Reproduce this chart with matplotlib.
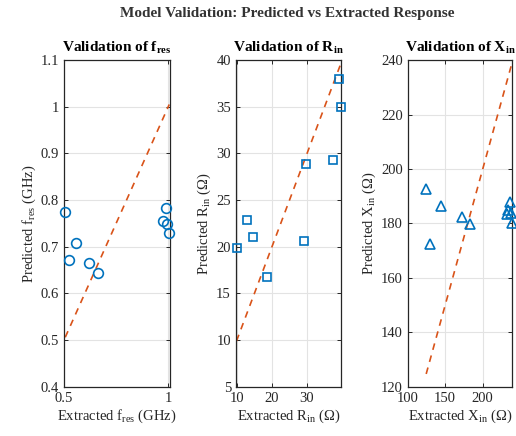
import matplotlib
matplotlib.use('Agg')
import matplotlib.pyplot as plt
import numpy as np

plt.rcParams['font.family'] = ['Liberation Serif', 'DejaVu Serif']
plt.rcParams['mathtext.fontset'] = 'custom'
plt.rcParams['mathtext.rm'] = 'Liberation Serif'
plt.rcParams['mathtext.it'] = 'Liberation Serif:italic'
plt.rcParams['mathtext.bf'] = 'Liberation Serif:bold'

# data
f_ext = [0.506, 0.526, 0.556, 0.621, 0.665, 0.976, 0.989, 0.992, 1.005]
f_pred = [0.774, 0.672, 0.709, 0.666, 0.644, 0.756, 0.784, 0.749, 0.729]

r_ext = [9.9, 12.9, 14.7, 18.6, 29.2, 29.6, 37.5, 39.1, 39.6]
r_pred = [19.9, 22.9, 21.0, 16.8, 20.6, 28.9, 29.3, 38.0, 35.0]

x_ext = [124.7, 130.4, 144.5, 171.8, 183.7, 232.5, 234.0, 236.0, 237.5, 238.5]
x_pred = [192.7, 172.6, 186.4, 182.3, 179.9, 183.4, 185.0, 187.7, 184.0, 180.0]

blue = '#0072BD'
orange = '#D95319'
dark = '#262626'

fig = plt.figure(figsize=(5.16, 4.36), dpi=100)

panels = [
    dict(x=f_ext, y=f_pred, m='o', ms=7, pos=[0.124, 0.113, 0.206, 0.749],
         title=r'Validation of $\mathbf{f}_{\mathbf{res}}$',
         xl=r'Extracted $\mathrm{f}_{\mathrm{res}}$ (GHz)', yl=r'Predicted $\mathrm{f}_{\mathrm{res}}$ (GHz)',
         xlim=(0.5, 1.01), ylim=(0.4, 1.1),
         xt=[0.5, 1], xtl=['0.5', '1'],
         yt=[0.4, 0.5, 0.6, 0.7, 0.8, 0.9, 1.0, 1.1], ytl=['0.4', '0.5', '0.6', '0.7', '0.8', '0.9', '1', '1.1']),
    dict(x=r_ext, y=r_pred, m='s', ms=6, pos=[0.457, 0.113, 0.204, 0.749],
         title=r'Validation of $\mathbf{R}_{\mathbf{in}}$',
         xl=r'Extracted $\mathrm{R}_{\mathrm{in}}$ (Ω)', yl=r'Predicted $\mathrm{R}_{\mathrm{in}}$ (Ω)',
         xlim=(9.7, 39.7), ylim=(5, 40),
         xt=[10, 20, 30], xtl=['10', '20', '30'],
         yt=list(range(5, 41, 5)), ytl=[str(v) for v in range(5, 41, 5)]),
    dict(x=x_ext, y=x_pred, m='^', ms=6.5, pos=[0.790, 0.113, 0.203, 0.749],
         title=r'Validation of $\mathbf{X}_{\mathbf{in}}$',
         xl=r'Extracted $\mathrm{X}_{\mathrm{in}}$ (Ω)', yl=r'Predicted $\mathrm{X}_{\mathrm{in}}$ (Ω)',
         xlim=(100, 239.5), ylim=(120, 240),
         xt=[100, 150, 200], xtl=['100', '150', '200'],
         yt=list(range(120, 241, 20)), ytl=[str(v) for v in range(120, 241, 20)]),
]

for p in panels:
    ax = fig.add_axes(p['pos'])
    ax.plot(p['x'], p['y'], linestyle='none', marker=p['m'], markersize=p['ms'],
            markerfacecolor='none', markeredgecolor=blue, markeredgewidth=1.2, zorder=3, clip_on=False)
    lo = min(p['x'])
    hi = max(p['x'])
    ax.plot([lo, hi], [lo, hi], color=orange, linestyle='--', linewidth=1.2, dashes=(4, 3.5), zorder=2)
    ax.set_xlim(p['xlim'])
    ax.set_ylim(p['ylim'])
    ax.set_xticks(p['xt'])
    ax.set_xticklabels(p['xtl'])
    ax.set_yticks(p['yt'])
    ax.set_yticklabels(p['ytl'])
    ax.grid(True, color='#e3e3e3', linewidth=0.8, zorder=0)
    ax.set_axisbelow(True)
    ax.tick_params(direction='in', length=3, width=0.7, colors=dark, labelsize=10.5,
                   top=True, right=True, labelcolor=dark)
    for s in ax.spines.values():
        s.set_color(dark)
        s.set_linewidth(0.9)
    ax.set_title(p['title'], fontsize=11, fontweight='bold', color='black', pad=6)
    ax.set_xlabel(p['xl'], fontsize=10.5, color=dark, labelpad=2)
    ax.set_ylabel(p['yl'], fontsize=10.5, color=dark, labelpad=2)

fig.suptitle('Model Validation: Predicted vs Extracted Response', x=0.557, y=0.985,
             fontsize=11, fontweight='bold', color='#333333')

fig.savefig('out.png', dpi=100)
